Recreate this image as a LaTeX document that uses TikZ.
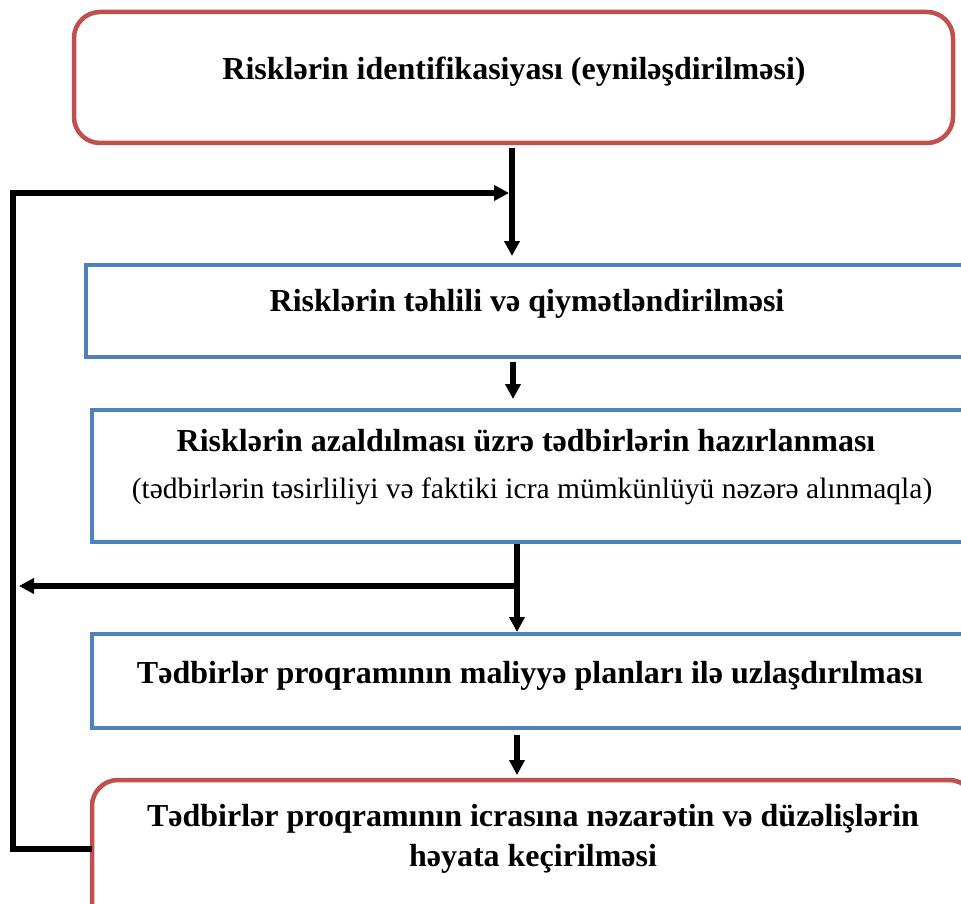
\documentclass[tikz,border=0pt]{standalone}
\usepackage{fontspec}
\setmainfont{Liberation Serif}
\usetikzlibrary{arrows.meta,positioning}
\definecolor{boxred}{HTML}{C0504D}
\definecolor{boxblue}{HTML}{4F81BD}
\tikzset{
  redbox/.style={draw=boxred, line width=4.5pt, rounded corners=26pt, inner sep=0pt, outer sep=0pt},
  bluebox/.style={draw=boxblue, line width=4.5pt, inner sep=0pt, outer sep=0pt},
  label/.style={inner sep=0pt, font=\fontsize{32}{40}\selectfont\bfseries, align=center},
  sublabel/.style={inner sep=0pt, font=\fontsize{29.5}{36}\selectfont, align=center},
  conn/.style={line width=5.5pt, black},
  arr/.style={conn, -{Triangle[length=15pt,width=15pt]}},
}
\begin{document}
\begin{tikzpicture}[x=1pt,y=-1pt]
\useasboundingbox (0,0) rectangle (961,904);
\clip (0,0) rectangle (961,904);
\fill[white] (0,0) rectangle (961,904);
% boxes
\node[redbox, minimum width=879pt, minimum height=131pt] (n1) at (513.5,77.5) {};
\node[bluebox, minimum width=889pt, minimum height=92pt] (n2) at (530.5,311) {};
\node[bluebox, minimum width=883pt, minimum height=132pt] (n3) at (533.5,476) {};
\node[bluebox, minimum width=883pt, minimum height=94pt] (n4) at (533.5,681) {};
\node[redbox, minimum width=883pt, minimum height=150pt] (n5) at (533.5,855) {};
% texts
\node[label] (t1) at (514,72) {Risklərin identifikasiyası (eyniləşdirilməsi)};
\node[label] (t2) at (527,304) {Risklərin təhlili və qiymətləndirilməsi};
\node[label] (t3a) at (526,441) {Risklərin azaldılması üzrə tədbirlərin hazırlanması};
\node[sublabel] (t3b) at (532,491) {(tədbirlərin təsirliliyi və faktiki icra mümkünlüyü nəzərə alınmaqla)};
\node[label] (t4) at (530,676) {Tədbirlər proqramının maliyyə planları ilə uzlaşdırılması};
\node[label, align=center] (t5) at (533,839) {Tədbirlər proqramının icrasına nəzarətin və düzəlişlərin\\[0pt]həyata keçirilməsi};
% connector coordinates
\coordinate (x1) at (512,193);
\coordinate (x2) at (513,0);
\coordinate (x3) at (517,586);
\coordinate (x4) at (517,0);
\coordinate (fl) at (13,849);
\coordinate (fr) at (92,849);
\coordinate (bl) at (13,586);
% arrows
\draw[arr] ([yshift=-5pt]n1.south -| x1) -- ([yshift=9pt]n2.north -| x1);
\draw[arr] ([yshift=-5pt]n2.south -| x2) -- ([yshift=11pt]n3.north -| x2);
\draw[arr] ([yshift=-2pt]n3.south -| x3) -- ([yshift=2pt]n4.north -| x3);
\draw[arr] ([yshift=-7pt]n4.south -| x4) -- ([yshift=5pt]n5.north -| x4);
\draw[arr] (x3) -- ([xshift=6pt]bl);
\draw[conn, line join=miter] (fr) -- (fl) -- (fl |- x1) -- ([xshift=-10pt]x1);
\draw[arr] (fl |- x1) -- ([xshift=-3pt]x1);
\end{tikzpicture}
\end{document}
